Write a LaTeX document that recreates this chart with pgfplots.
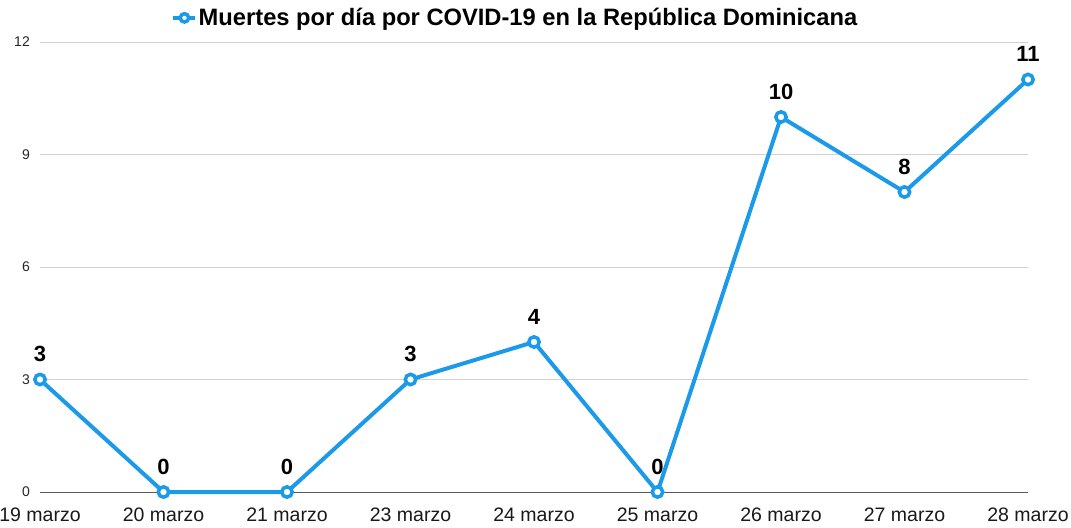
\documentclass[border=0pt]{standalone}
\usepackage{pgfplots}
\pgfplotsset{compat=1.18}
\usepackage{fontspec}
\setmainfont{Liberation Sans}
\definecolor{cblue}{RGB}{28,154,234}
\begin{document}
\begin{tikzpicture}
\begin{axis}[
  scale only axis,
  width=988pt, height=450pt,
  xmin=0, xmax=8, ymin=0, ymax=12,
  xtick={0,...,8},
  xticklabels={19 marzo,20 marzo,21 marzo,23 marzo,24 marzo,25 marzo,26 marzo,27 marzo,28 marzo},
  ytick={0,3,6,9,12},
  extra y ticks={0},
  extra y tick labels={},
  extra y tick style={grid style={draw=black!65, line width=1pt}},
  ymajorgrids,
  grid style={draw=black!18, line width=0.8pt},
  axis line style={draw=none},
  major tick length=0pt,
  /pgf/number format/assume math mode=true,
  xticklabel style={font=\fontsize{19.5}{22}\selectfont, text=black!90, inner sep=0pt, anchor=north, yshift=-16pt},
  yticklabel style={font=\fontsize{14}{16}\selectfont, text=black!85, inner sep=0pt, anchor=east, xshift=-10pt},
  clip=false,
  nodes near coords,
  every node near coord/.append style={font=\fontsize{22}{24}\selectfont\bfseries, text=black, anchor=south, inner sep=0pt, yshift=16pt},
  legend style={at={(0.481,1)}, anchor=south, yshift=13pt, draw=none, fill=none,
    font=\fontsize{23.7}{26}\selectfont\bfseries, inner sep=0pt, nodes={inner sep=1.5pt}},
  legend image code/.code={
    \draw[cblue, line width=3.5pt] (0pt,0pt) -- (22pt,0pt);
    \draw[cblue, line width=3.5pt, fill=white] (11pt,0pt) circle (4.2pt);
  },
  legend cell align=left,
]
\addplot[cblue, line width=4pt, mark=*, mark options={fill=white, draw=cblue, line width=3.5pt}, mark size=5.2pt]
coordinates {(0,3) (1,0) (2,0) (3,3) (4,4) (5,0) (6,10) (7,8) (8,11)};
\addlegendentry{Muertes por día por COVID-19 en la República Dominicana}
\end{axis}
\pgfresetboundingbox
\path ([shift={(-40pt,-35pt)}]current axis.south west) rectangle ([shift={(43pt,42pt)}]current axis.north east);
\end{tikzpicture}
\end{document}
